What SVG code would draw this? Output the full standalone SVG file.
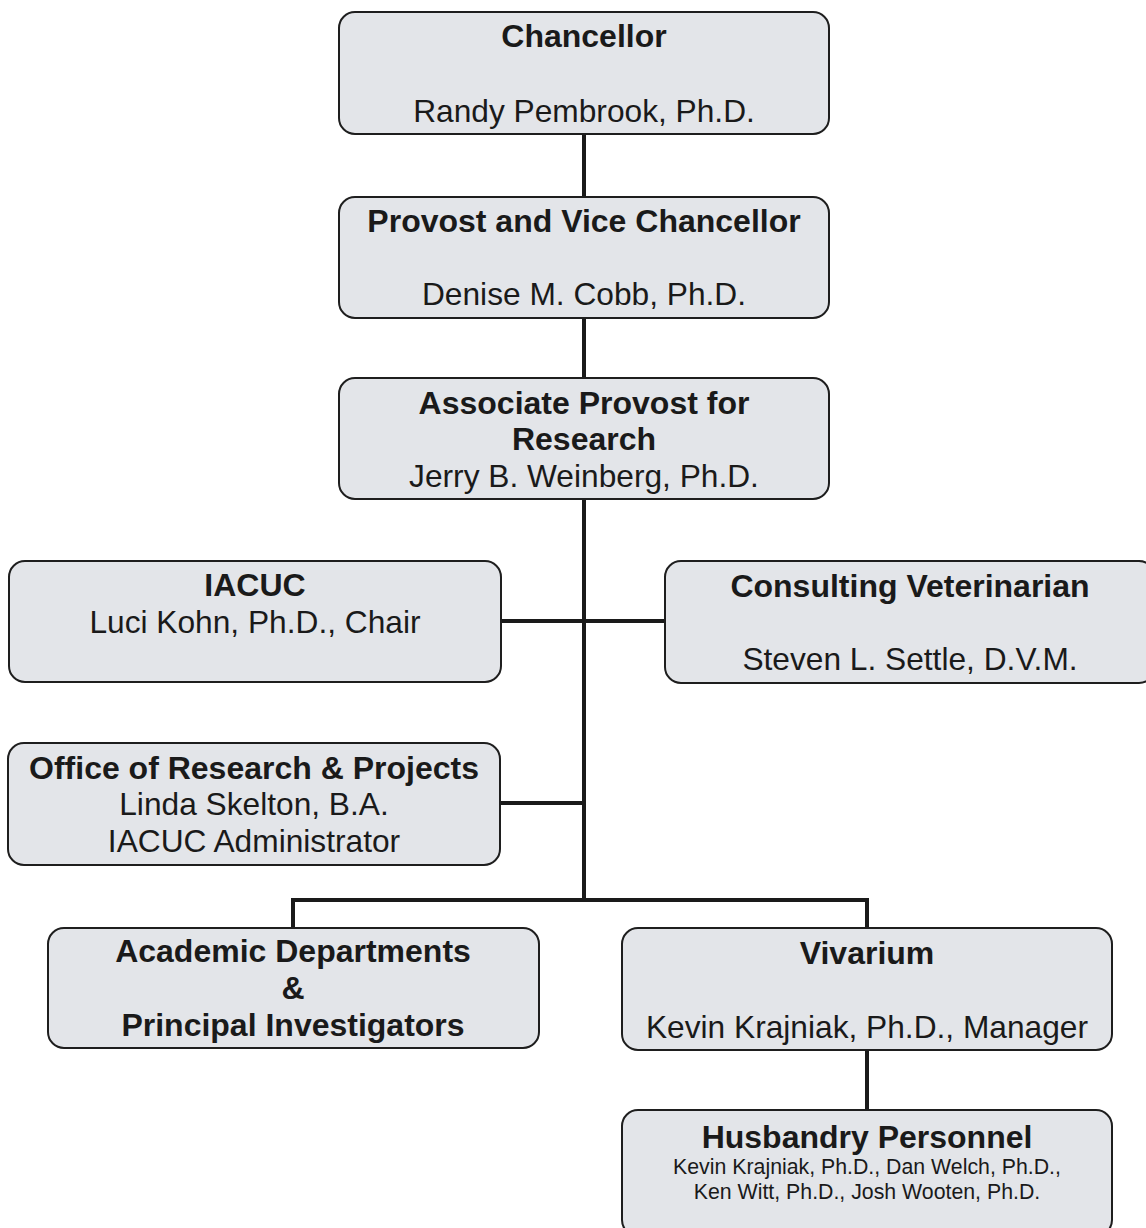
<svg xmlns="http://www.w3.org/2000/svg" width="1146" height="1228" viewBox="0 0 1146 1228">
<style>
.box{fill:#e3e5e9;stroke:#1e1e1e;stroke-width:2}
.t{font-family:"Liberation Sans",Arial,sans-serif;font-size:31.7px;fill:#1a1a1a;text-anchor:middle}
.b{font-weight:bold;font-size:32px}
.s{font-size:21.3px}
.c{stroke:#1a1a1a;stroke-width:4;fill:none}
</style>
<rect width="1146" height="1228" fill="#ffffff"/>
<g id="connectors">
<line class="c" x1="584" y1="134" x2="584" y2="197"/>
<line class="c" x1="584" y1="318" x2="584" y2="378"/>
<line class="c" x1="584" y1="499" x2="584" y2="900"/>
<line class="c" x1="501" y1="621" x2="665" y2="621"/>
<line class="c" x1="500" y1="803" x2="584" y2="803"/>
<polyline class="c" points="293,928 293,900 867,900 867,928"/>
<line class="c" x1="867" y1="1050" x2="867" y2="1110"/>
</g>
<g id="chancellor">
<rect class="box" x="339" y="12" width="490" height="122" rx="16"/>
<text class="t b" x="584" y="47">Chancellor</text>
<text class="t" x="584" y="122">Randy Pembrook, Ph.D.</text>
</g>
<g id="provost">
<rect class="box" x="339" y="197" width="490" height="121" rx="16"/>
<text class="t b" x="584" y="232">Provost and Vice Chancellor</text>
<text class="t" x="584" y="305">Denise M. Cobb, Ph.D.</text>
</g>
<g id="assoc">
<rect class="box" x="339" y="378" width="490" height="121" rx="16"/>
<text class="t b" x="584" y="414">Associate Provost for</text>
<text class="t b" x="584" y="450">Research</text>
<text class="t" x="584" y="487">Jerry B. Weinberg, Ph.D.</text>
</g>
<g id="iacuc">
<rect class="box" x="9" y="561" width="492" height="121" rx="16"/>
<text class="t b" x="255" y="596">IACUC</text>
<text class="t" x="255" y="633">Luci Kohn, Ph.D., Chair</text>
</g>
<g id="vet">
<rect class="box" x="665" y="561" width="490" height="122" rx="16"/>
<text class="t b" x="910" y="597">Consulting Veterinarian</text>
<text class="t" x="910" y="670">Steven L. Settle, D.V.M.</text>
</g>
<g id="office">
<rect class="box" x="8" y="743" width="492" height="122" rx="16"/>
<text class="t b" x="254" y="779">Office of Research &amp; Projects</text>
<text class="t" x="254" y="815">Linda Skelton, B.A.</text>
<text class="t" x="254" y="852">IACUC Administrator</text>
</g>
<g id="academic">
<rect class="box" x="48" y="928" width="491" height="120" rx="16"/>
<text class="t b" x="293" y="962">Academic Departments</text>
<text class="t b" x="293" y="999">&amp;</text>
<text class="t b" x="293" y="1036">Principal Investigators</text>
</g>
<g id="vivarium">
<rect class="box" x="622" y="928" width="490" height="122" rx="16"/>
<text class="t b" x="867" y="964">Vivarium</text>
<text class="t" x="867" y="1038">Kevin Krajniak, Ph.D., Manager</text>
</g>
<g id="husbandry">
<rect class="box" x="622" y="1110" width="490" height="126" rx="16"/>
<text class="t b" x="867" y="1148">Husbandry Personnel</text>
<text class="t s" x="867" y="1174">Kevin Krajniak, Ph.D., Dan Welch, Ph.D.,</text>
<text class="t s" x="867" y="1199">Ken Witt, Ph.D., Josh Wooten, Ph.D.</text>
</g>
</svg>
